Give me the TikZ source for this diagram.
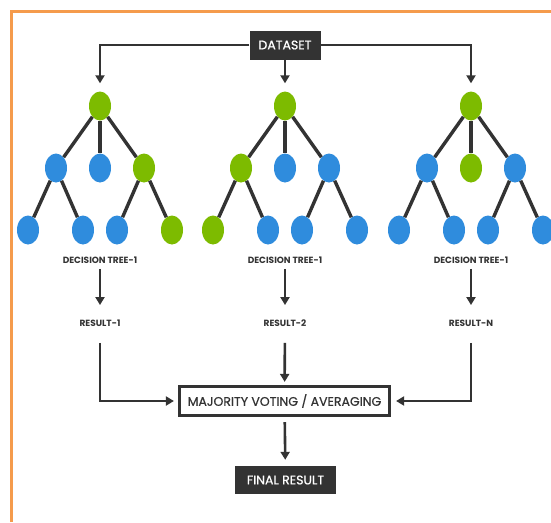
\documentclass[tikz,border=0pt]{standalone}
\usepackage{fontspec}
\setmainfont{Poppins}
\newfontfamily\boxfont[FakeBold=0.6]{Poppins}
\usetikzlibrary{arrows.meta,shapes.geometric}
\definecolor{ink}{HTML}{333333}
\definecolor{leafgreen}{HTML}{7DBB00}
\definecolor{leafblue}{HTML}{2F8CDD}
\definecolor{frame}{HTML}{F59B4C}
\tikzset{
  x=1pt, y=-1pt,
  leaf/.style={ellipse, minimum width=22pt, minimum height=29pt, inner sep=0pt, draw=none},
  gleaf/.style={leaf, fill=leafgreen},
  bleaf/.style={leaf, fill=leafblue},
  branch/.style={ink, line width=3.4pt},
  conn/.style={ink, line width=2.6pt, -{Triangle[length=8pt,width=9pt]}},
  tag/.style={font=\bfseries\fontsize{9}{9}\selectfont, text=ink, inner sep=0pt, text height=6.5pt, text depth=0pt},
  darkbox/.style={fill=ink, text=white, inner sep=0pt, font=\boxfont\fontsize{12.5}{12.5}\selectfont},
  votebox/.style={draw=ink, line width=3.2pt, fill=white, text=ink, inner sep=0pt,
    minimum width=210pt, minimum height=29pt, font=\boxfont\fontsize{12.5}{12.5}\selectfont}
}
\begin{document}
\begin{tikzpicture}
\useasboundingbox (0,0) rectangle (551,522);
\fill[white] (0,0) rectangle (551,522);
% orange frame, running off the right and bottom edges
\draw[frame, line width=3pt] (11,522) -- (11,11.5) -- (551,11.5);

% source box
\node[darkbox, minimum width=71pt, minimum height=29pt] (ds) at (285,45) {DATASET};

% ---- tree 1 ----
\node[gleaf] (a0) at (100,106) {};
\node[bleaf] (a1) at (56,168) {};
\node[bleaf] (a2) at (100,168) {};
\node[gleaf] (a3) at (144,168) {};
\node[bleaf] (a4) at (28,230) {};
\node[bleaf] (a5) at (83,230) {};
\node[bleaf] (a6) at (117,230) {};
\node[gleaf] (a7) at (172,230) {};
% ---- tree 2 ----
\node[gleaf] (b0) at (285,106) {};
\node[gleaf] (b1) at (241,168) {};
\node[bleaf] (b2) at (285,168) {};
\node[bleaf] (b3) at (329,168) {};
\node[gleaf] (b4) at (213,230) {};
\node[bleaf] (b5) at (268,230) {};
\node[bleaf] (b6) at (302,230) {};
\node[bleaf] (b7) at (357,230) {};
% ---- tree 3 ----
\node[gleaf] (c0) at (471,106) {};
\node[bleaf] (c1) at (427,168) {};
\node[gleaf] (c2) at (471,168) {};
\node[bleaf] (c3) at (515,168) {};
\node[bleaf] (c4) at (399,230) {};
\node[bleaf] (c5) at (454,230) {};
\node[bleaf] (c6) at (488,230) {};
\node[bleaf] (c7) at (543,230) {};

\foreach \t in {a,b,c}{
  \draw[branch] (\t0) -- (\t1);
  \draw[branch] (\t0) -- (\t2);
  \draw[branch] (\t0) -- (\t3);
  \draw[branch] (\t1) -- (\t4);
  \draw[branch] (\t1) -- (\t5);
  \draw[branch] (\t3) -- (\t6);
  \draw[branch] (\t3) -- (\t7);
}

% dataset feeds every tree
\draw[conn, shorten >=8pt] (ds.west) -| (a0);
\draw[conn, shorten >=8pt] (ds.east) -| (c0);
\draw[conn, shorten >=8pt] (ds) -- (b0);
\node[darkbox, minimum width=71pt, minimum height=29pt] at (ds) {DATASET};

% tree labels and results
\node[tag] (la) at (100,260) {DECISION TREE-1};
\node[tag] (lb) at (285,260) {DECISION TREE-1};
\node[tag] (lc) at (471,260) {DECISION TREE-1};
\node[tag] (ra) at (100,323) {RESULT-1};
\node[tag] (rb) at (285,323) {RESULT-2};
\node[tag] (rc) at (471,323) {RESULT-N};
\draw[conn, shorten <=5.5pt, shorten >=14.5pt] (la) -- (ra);
\draw[conn, shorten <=5.5pt, shorten >=14.5pt] (lb) -- (rb);
\draw[conn, shorten <=5.5pt, shorten >=14.5pt] (lc) -- (rc);

% aggregation
\node[votebox] (vote) at (284.5,401) {MAJORITY VOTING / AVERAGING};
\draw[conn, shorten <=16.5pt, shorten >=4pt] (ra) |- (vote.west);
\draw[conn, shorten <=16.5pt, shorten >=5pt] (rc) |- (vote.east);
\draw[conn, shorten <=16.5pt, shorten >=3pt] (rb) -- (vote);

% final output
\node[darkbox, minimum width=101pt, minimum height=28pt] (final) at (285.5,480) {FINAL RESULT};
\draw[conn, shorten <=5pt, shorten >=6pt] (vote) -- (final);
\end{tikzpicture}
\end{document}
